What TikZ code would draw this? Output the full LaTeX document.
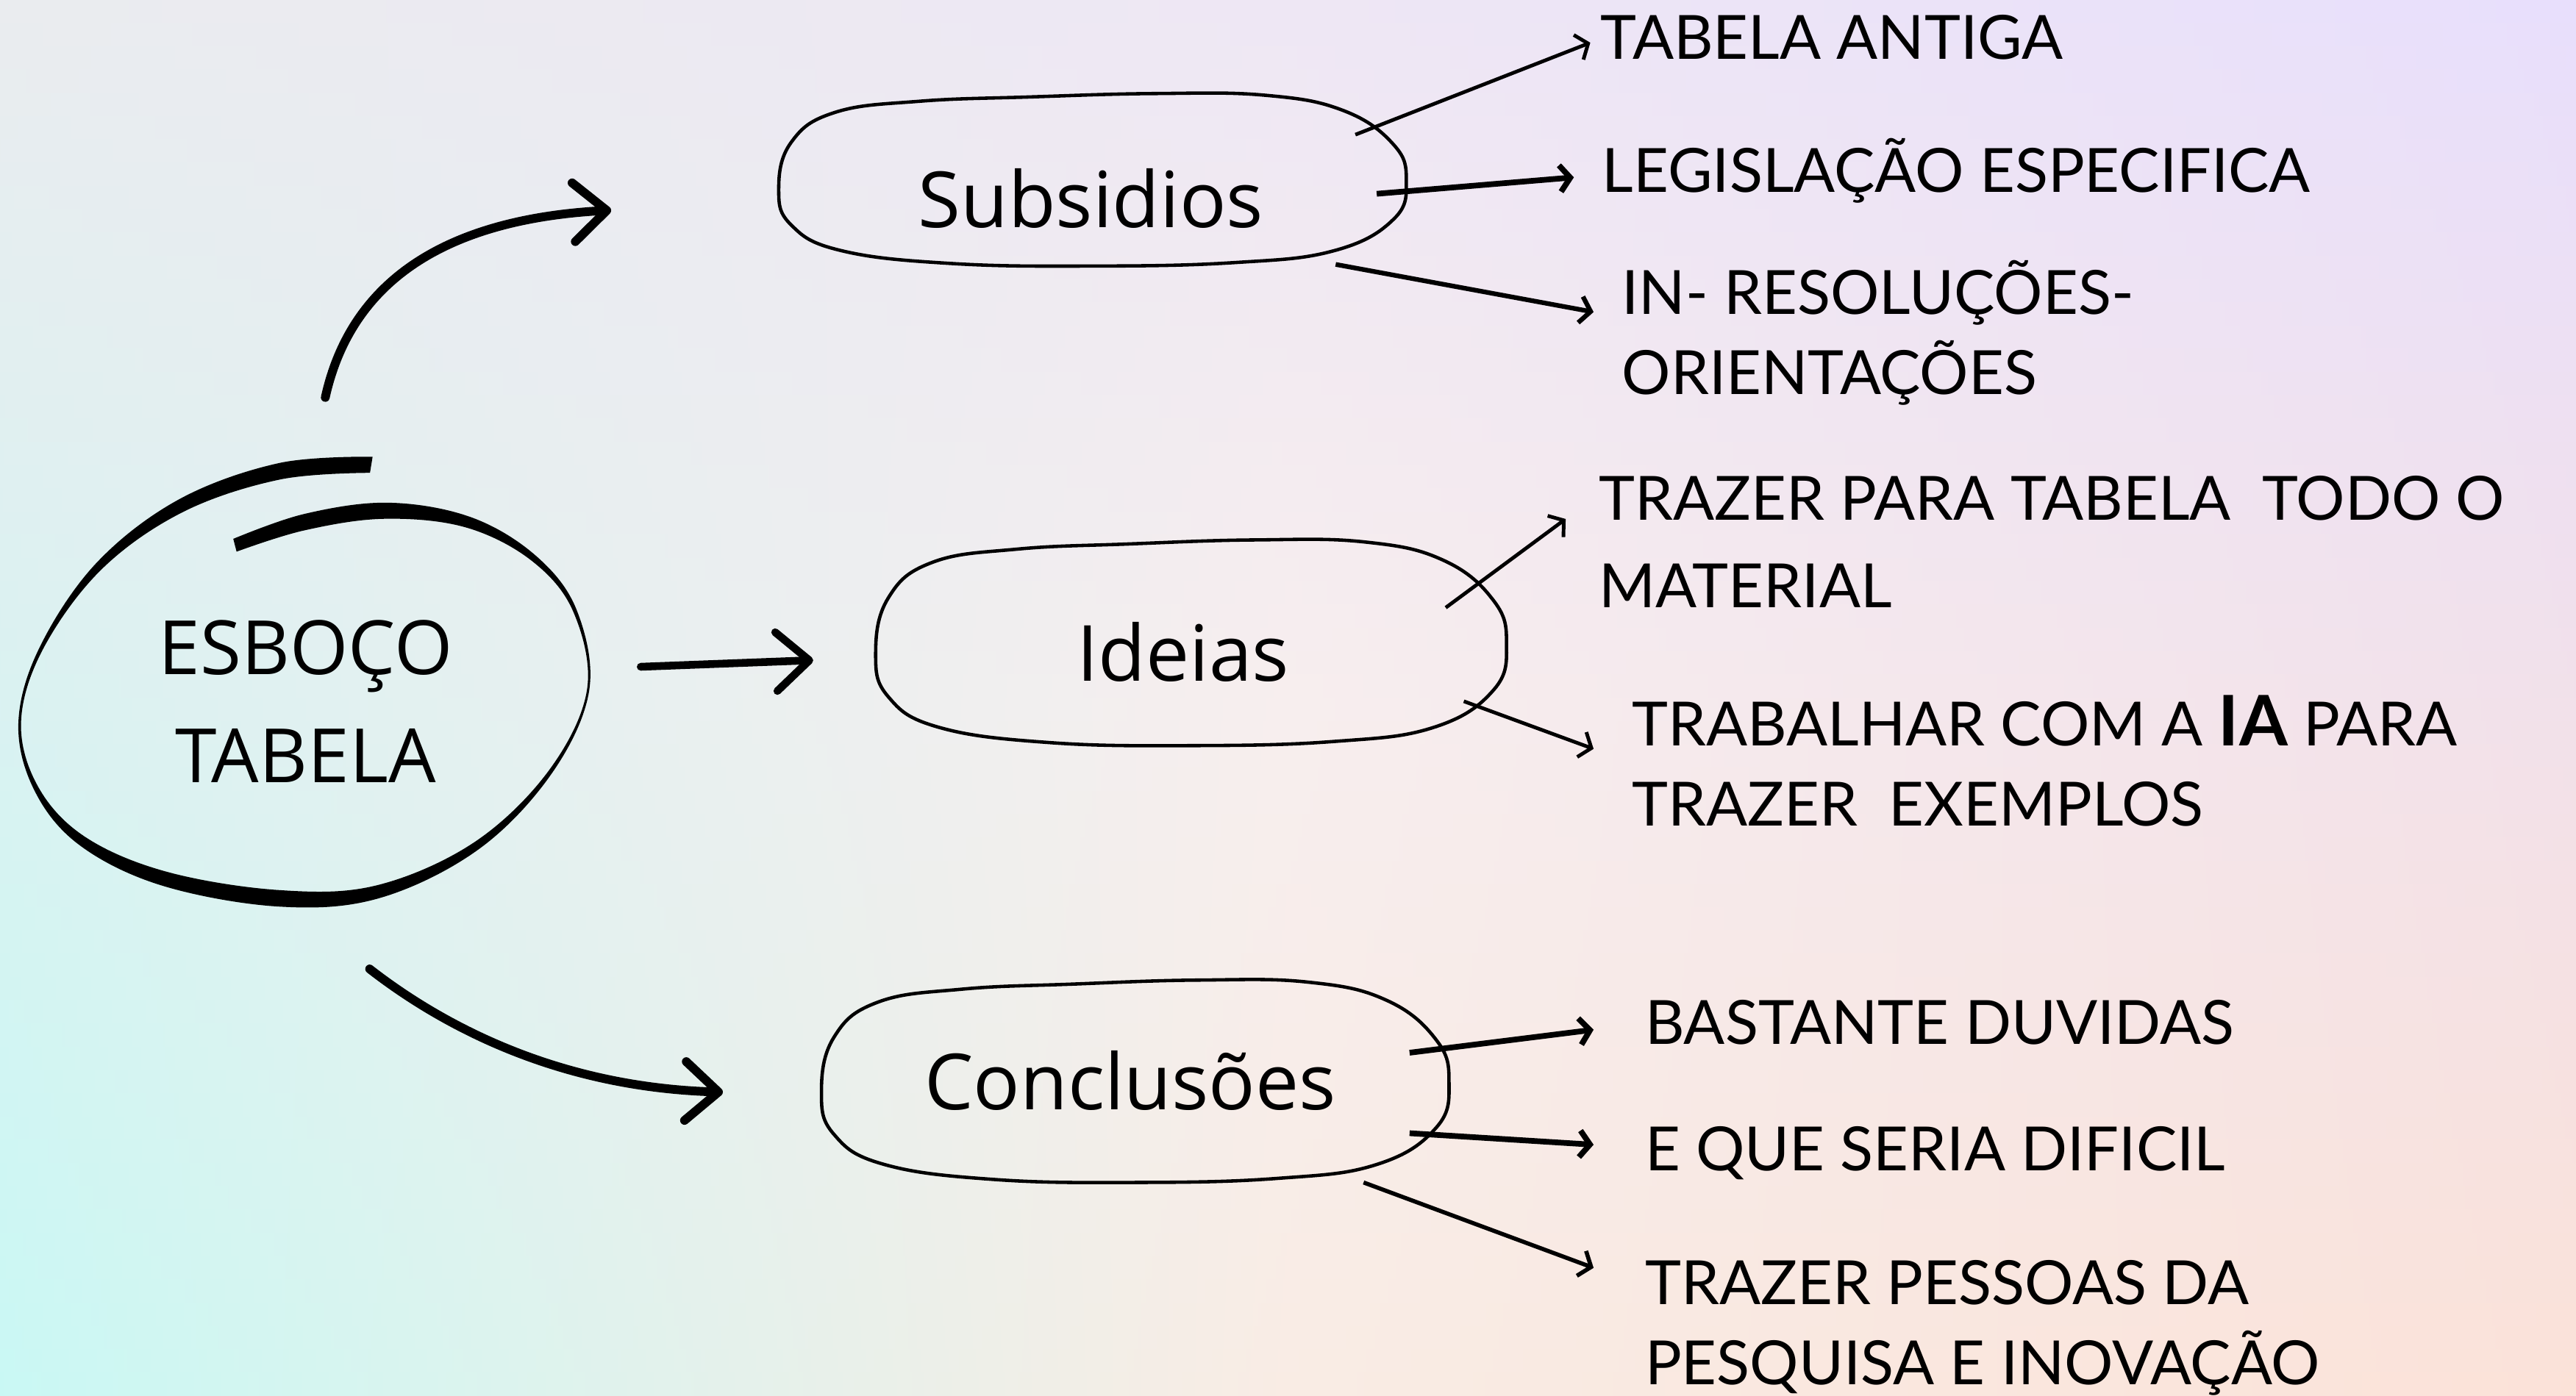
\documentclass[tikz,border=0pt]{standalone}
\usepackage{fontspec}
\setmainfont{Open Sans}
\newfontfamily\itemfont{Lato}
\usetikzlibrary{arrows.meta}

\definecolor{bgTL}{HTML}{EAECEF}
\definecolor{bgTR}{HTML}{E8DFFC}
\definecolor{bgBL}{HTML}{C9F8F4}
\definecolor{bgBR}{HTML}{FBE2D8}
\definecolor{bgTopMid}{HTML}{EEE7F4}
\definecolor{bgCtr}{HTML}{F7EEEE}
\definecolor{bgBotMid}{HTML}{F9ECE4}

\tikzset{
  bigarrow/.style={line width=3.4pt, line cap=round,
    -{Straight Barb[length=4.5mm, width=8mm, line cap=round, line join=round]}},
  smallarrow/.style={line width=1.4pt,
    -{Straight Barb[length=1.4mm, width=3.6mm]}},
  blobline/.style={line width=1.3pt, line join=round},
  lbl/.style={font=\fontsize{30}{36}\selectfont},
  item/.style={anchor=base west, align=left, inner sep=0pt,
    font=\itemfont\fontsize{23.6}{31}\selectfont}
}

% hand drawn outline: centre, half width, half height
\newcommand{\blob}[3]{%
  \draw[blobline, shift={#1}] plot[smooth cycle, tension=0.7] coordinates {
    ({-1.00*#2},{0.10*#3}) ({-0.96*#2},{-0.45*#3}) ({-0.82*#2},{-0.80*#3})
    ({-0.55*#2},{-0.93*#3}) ({-0.20*#2},{-0.98*#3}) ({0.20*#2},{-1.02*#3})
    ({0.55*#2},{-1.00*#3}) ({0.80*#2},{-0.82*#3}) ({0.96*#2},{-0.42*#3})
    ({1.00*#2},{0.00*#3}) ({0.96*#2},{0.45*#3}) ({0.77*#2},{0.82*#3})
    ({0.45*#2},{0.96*#3}) ({0.00*#2},{1.00*#3}) ({-0.45*#2},{0.97*#3})
    ({-0.80*#2},{0.82*#3}) ({-0.96*#2},{0.52*#3})
  };
}

\begin{document}
\begin{tikzpicture}[x=0.02234cm, y=-0.02234cm]

  \useasboundingbox (0,0) rectangle (1568,850);

  % background, in horizontal strips
  \foreach \i in {0,...,59} {
    \pgfmathsetmacro\ya{\i*14.1667}
    \pgfmathsetmacro\yb{(\i+1)*14.1667+1.5}
    \pgfmathtruncatemacro\p{100*(\i+0.5)/60}
    \pgfmathtruncatemacro\m{min(2*\p,100)}
    \pgfmathtruncatemacro\n{max(2*\p-100,0)}
    \colorlet{midc}{bgCtr!\m!bgTopMid}
    \colorlet{midc}{bgBotMid!\n!midc}
    \fill[left color=bgBL!\p!bgTL, right color=bgBR!\p!bgTR, middle color=midc]
      (0,\ya) rectangle (1568,\yb);
  }

  % centre ring, brush stroke
  \fill plot[smooth, tension=0.6] coordinates {
      (226.8,278.1) (169.7,282) (108.7,304.2) (58.4,343.1) (23.9,394.6)
      (11.2,440.1) (20.7,480.8) (48,514.3) (98.2,539.1) (169.7,552)
      (230.8,546.9) (291.4,517.1) (336.1,470.6) (358.7,420) (351,371.4)
      (326.3,338.5) (286.6,314.9) (236.2,306.1) (185,313) (142,328.1)}
    -- plot[smooth, tension=0.6] coordinates {
      (144,335.9) (185,323) (233.8,315.9) (283.4,321.1) (323.7,341.5)
      (349,372.6) (357.3,420) (333.9,469.4) (288.6,512.9) (229.2,539.1)
      (170.3,542) (101.8,530.9) (52,509.7) (23.3,479.2) (12.8,439.9)
      (26.1,395.4) (61.6,346.9) (111.3,311.8) (170.3,292) (225.2,287.9)}
    -- cycle;
  \node[align=center, font=\fontsize{29}{42}\selectfont] (esb) at (186,427) {ESBOÇO\\TABELA};

  % branches
  \node[lbl] (sub) at (664,121) {Subsidios};
  \node[lbl] (ide) at (720,397) {Ideias};
  \node[lbl] (con) at (688,658) {Conclusões};

  \blob{(665,110)}{191}{52}
  \blob{(725,392)}{192}{62}
  \blob{(691,659)}{191}{61}

  \coordinate (up0) at (198,242);
  \coordinate (up1) at (372,128);
  \coordinate (mid0) at (390,406);
  \coordinate (mid1) at (495,402);
  \coordinate (low0) at (225,590);
  \coordinate (low1) at (440,665);

  \draw[bigarrow] (up0) .. controls (215,165) and (280,133) .. (up1);
  \draw[bigarrow, line width=3pt] (mid0) -- (mid1);
  \draw[bigarrow] (low0) .. controls (270,625) and (340,662) .. (low1);

  % leaves (base west = baseline of the last line)
  \node[item] (t1) at (974,36) {TABELA ANTIGA};
  \node[item] (t2) at (975,117) {LEGISLAÇÃO ESPECIFICA};
  \node[item] (t3) at (987,240) {IN- RESOLUÇÕES-\\ORIENTAÇÕES};
  \node[item, font=\itemfont\fontsize{23.6}{34}\selectfont] (t4) at (973,370)
    {TRAZER PARA TABELA\ \ TODO O\\MATERIAL};
  \node[item] (t5) at (993,503)
    {TRABALHAR COM A {\bfseries\fontsize{27}{31}\selectfont IA} PARA\\TRAZER\ \ EXEMPLOS};
  \node[item] (t6) at (1001,636) {BASTANTE DUVIDAS};
  \node[item] (t7) at (1001,713) {E QUE SERIA DIFICIL};
  \node[item] (t8) at (1001,843) {TRAZER PESSOAS DA\\PESQUISA E INOVAÇÃO};

  \coordinate (s1) at (825,82);
  \coordinate (s2) at (838,118);
  \coordinate (s3) at (813,161);
  \coordinate (i1) at (880,370);
  \coordinate (i2) at (891,427);
  \coordinate (c1) at (858,641);
  \coordinate (c2) at (858,690);
  \coordinate (c3) at (830,720);

  \draw[smallarrow] (s1) -- ([shift={(-6,-10)}]t1.base west);
  \draw[smallarrow, line width=2.2pt] (s2) -- ([shift={(-17,-9)}]t2.base west);
  \draw[smallarrow, line width=1.8pt] (s3) -- ([shift={(-17,-50)}]t3.base west);
  \draw[smallarrow] (i1) -- ([shift={(-20,-54)}]t4.base west);
  \draw[smallarrow] (i2) -- ([shift={(-23,-47)}]t5.base west);
  \draw[smallarrow, line width=2.2pt] (c1) -- ([shift={(-31,-9)}]t6.base west);
  \draw[smallarrow, line width=2.2pt] (c2) -- ([shift={(-31,-16)}]t7.base west);
  \draw[smallarrow, line width=1.6pt] (c3) -- ([shift={(-31,-71)}]t8.base west);

\end{tikzpicture}
\end{document}
